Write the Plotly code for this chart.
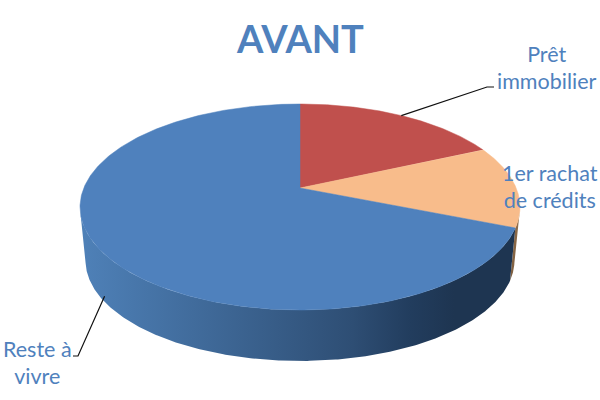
import numpy as np
import plotly.graph_objects as go

# --- data ---
title = "AVANT"
categories = ["Prêt<br>immobilier", "1er rachat<br>de crédits", "Reste à<br>vivre"]
values = [18.2, 12.9, 68.9]
top_colors = ["#C0504D", "#F8BC8B", "#4F81BD"]

TEXT = "#4F81BD"
FONT = "Lato"

# --- projection of the tilted disc, in pixel space of the 600x400 axes ---
CX, CY, BOTTOM_CY = 300, 188, 242
B, A, C = 0.1845, 99.5, 216.2
BOTTOM_SCALE = 0.975
# the outer wall is only seen between these angles (clockwise from 12 o'clock)
WALL_FROM, WALL_TO = np.radians(102), np.radians(258)


def project(theta, h=0.0):
    u, v = np.sin(theta), np.cos(theta)
    w = 1 + B * v
    s = 1 + (BOTTOM_SCALE - 1) * h
    y0 = CY + (BOTTOM_CY - CY) * h
    return CX + s * C * u / w, y0 - s * A * v / w


edges = np.concatenate([[0], np.cumsum(values)]) / np.sum(values) * 2 * np.pi
fig = go.Figure()

# side wall (drawn first, the top surface overlaps it)
side_styles = {
    1: dict(colorscale=[[0, "#6E5238"], [1, "#A07A52"]], start=505, stop=525),
    2: dict(colorscale=[[0, "#4F81B8"], [0.12, "#4877AB"], [0.62, "#2E4E74"], [0.75, "#223D5E"], [0.85, "#1E3551"], [1, "#1E3551"]], start=80, stop=520),
}
for i in (1, 2):
    t = np.linspace(max(edges[i], WALL_FROM), min(edges[i + 1], WALL_TO), 300)
    x0, y0 = project(t, 0)
    x1, y1 = project(t, 1)
    fig.add_trace(go.Scatter(
        x=np.r_[x0, x1[::-1]], y=np.r_[y0, y1[::-1]],
        mode="lines", fill="toself", line=dict(width=0),
        fillgradient=dict(type="horizontal", **side_styles[i]),
        hoverinfo="skip", showlegend=False))

# top surface slices
for i, col in enumerate(top_colors):
    t = np.linspace(edges[i], edges[i + 1], 300)
    x, y = project(t, 0)
    fig.add_trace(go.Scatter(
        x=np.r_[CX, x, CX], y=np.r_[CY, y, CY],
        mode="lines", fill="toself", fillcolor=col, line=dict(width=0.5, color=col),
        hoverinfo="skip", showlegend=False))

# leader lines: from the slice's mid-angle to the label
mids = (edges[:-1] + edges[1:]) / 2
leaders = {0: (0.0, [(487, 87), (494, 87)]), 2: (0.88, [(78, 356), (73, 356)])}
for i, (h, pts) in leaders.items():
    sx, sy = project(mids[i], h)
    fig.add_trace(go.Scatter(
        x=[float(sx)] + [p[0] for p in pts], y=[float(sy)] + [p[1] for p in pts],
        mode="lines", line=dict(color="#111111", width=1.2),
        hoverinfo="skip", showlegend=False))

label_pos = [(546.5, 67), (549.5, 186), (37, 362.5)]
annotations = [dict(x=300, y=38, text=f"<b>{title}</b>", showarrow=False, xref="x", yref="y",
                    font=dict(family=FONT, size=38, color=TEXT))]
for lab, (x, y) in zip(categories, label_pos):
    annotations.append(dict(
        x=x, y=y, xref="x", yref="y", showarrow=False, align="center",
        text=f'<span style="font-size:21.5px">{lab}</span>',
        font=dict(family=FONT, size=21, color=TEXT)))

fig.update_layout(
    width=600, height=400, margin=dict(l=0, r=0, t=0, b=0),
    paper_bgcolor="white", plot_bgcolor="white", showlegend=False,
    xaxis=dict(range=[0, 600], visible=False, fixedrange=True),
    yaxis=dict(range=[400, 0], visible=False, fixedrange=True),
    annotations=annotations)

fig.write_html("out.html", config=dict(displayModeBar=False),
               post_script="document.body.style.margin='0';")
